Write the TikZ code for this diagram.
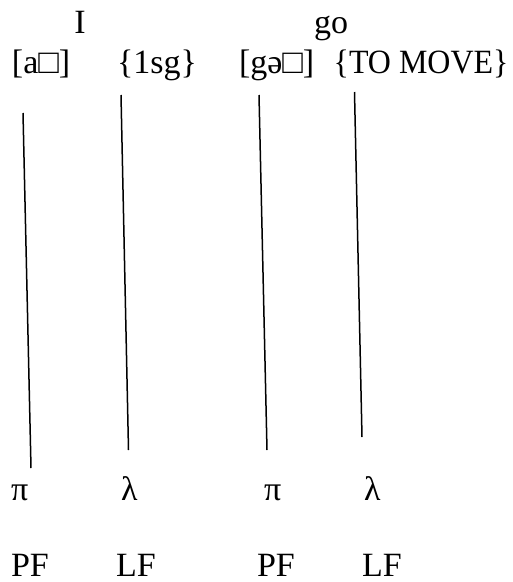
\documentclass[tikz,border=0pt]{standalone}
\usepackage{fontspec}
\setmainfont{Liberation Serif}
\begin{document}
\begin{tikzpicture}[x=1pt,y=-1pt,
  lbl/.style={inner sep=0pt,outer sep=0pt,font=\fontsize{34}{38}\selectfont},
  stroke/.style={line width=1.5pt}]
\useasboundingbox (0,0) rectangle (513,582);
% top glosses
\node[lbl,anchor=base] (I) at (80,33) {I};
\node[lbl,anchor=base] (go) at (331,33) {go};
% forms
\node[lbl,anchor=base west] (f1) at (12,73) {[a□]};
\node[lbl,anchor=base west] (m1) at (117,73) {\{1sg\}};
\node[lbl,anchor=base west] (f2) at (239,73) {[gə□]};
\node[lbl,anchor=base east,xscale=0.94,transform shape] (m2) at (508.5,73) {\{TO MOVE\}};
% symbols
\node[lbl,anchor=base west] (p1) at (11,500) {π};
\node[lbl,anchor=base west] (l1) at (121,500) {λ};
\node[lbl,anchor=base west] (p2) at (264,500) {π};
\node[lbl,anchor=base west] (l2) at (364,500) {λ};
% interfaces
\node[lbl,anchor=base west] (PF1) at (11,576.5) {PF};
\node[lbl,anchor=base west] (LF1) at (116,576.5) {LF};
\node[lbl,anchor=base west] (PF2) at (257,576.5) {PF};
\node[lbl,anchor=base west] (LF2) at (362,576.5) {LF};
% line ends
\coordinate (a1) at (23,113);  \coordinate (b1) at (31,468);
\coordinate (a2) at (121,95);  \coordinate (b2) at (128.5,450);
\coordinate (a3) at (259,95);  \coordinate (b3) at (267,450);
\coordinate (a4) at (354.5,92); \coordinate (b4) at (362,437);
\draw[stroke] (a1) -- (b1);
\draw[stroke] (a2) -- (b2);
\draw[stroke] (a3) -- (b3);
\draw[stroke] (a4) -- (b4);
\end{tikzpicture}
\end{document}
